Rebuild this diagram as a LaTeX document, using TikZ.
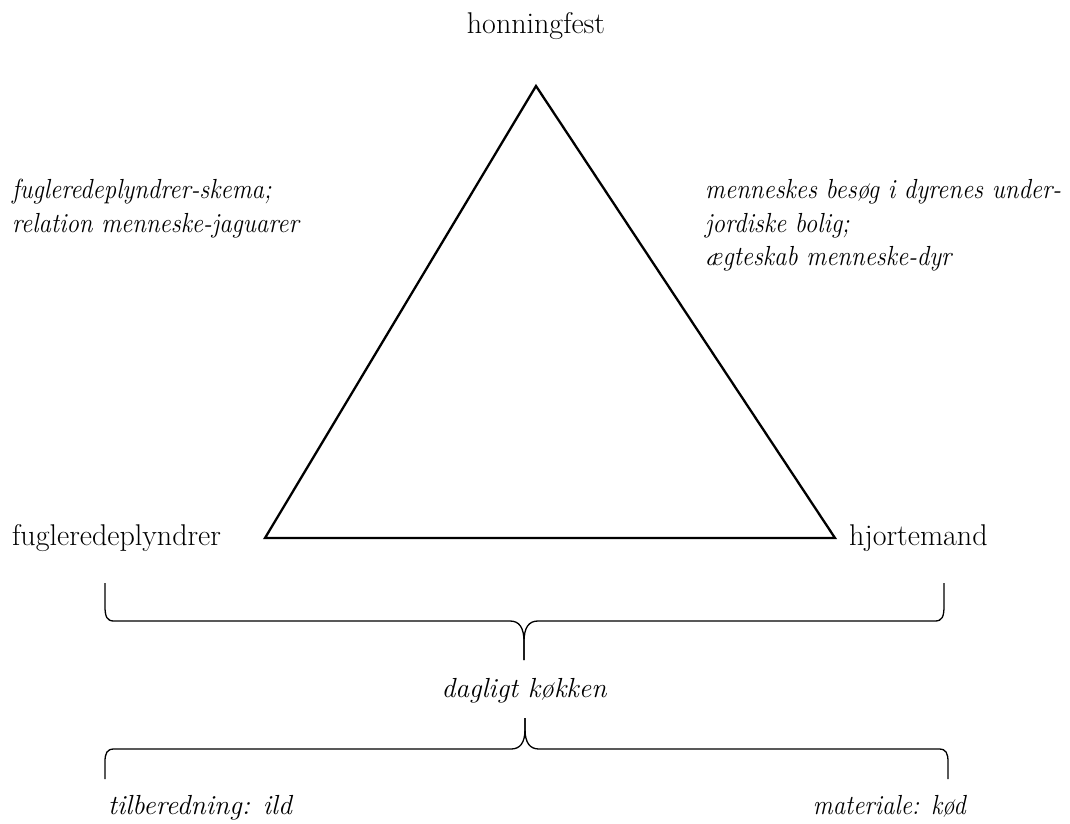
\documentclass[tikz,border=0pt]{standalone}
\usepackage{graphicx}
\usetikzlibrary{calc}
\newcommand{\sqz}[1]{\scalebox{0.9}[1]{#1}}
\begin{document}
\begin{tikzpicture}[x=1pt,y=-1pt,
  lbl/.style={inner sep=0pt,font=\fontsize{30}{34}\selectfont},
  ilbl/.style={inner sep=0pt,font=\fontsize{27.6}{34}\selectfont\itshape},
  tri/.style={line width=2.3pt,line join=miter},
  bracepath/.style={line width=1.3pt}]
\useasboundingbox (0,0) rectangle (1070,823);
% triangle
\coordinate (A) at (536,86);
\coordinate (L) at (265,538);
\coordinate (R) at (835,538);
\draw[tri] (A) -- (L) -- (R) -- cycle;
% vertex labels
\node[lbl,anchor=base] (top) at (536,33) {honningfest};
\node[lbl,anchor=base west] (left) at (12,545) {fugleredeplyndrer};
\node[lbl,anchor=base west] (right) at (849,545) {hjortemand};
% side labels
\node[ilbl,anchor=base west] (sl1) at (12,198) {\sqz{fugleredeplyndrer-skema;}};
\node[ilbl,anchor=base west] (sl2) at (12,232) {\sqz{relation menneske-jaguarer}};
\node[ilbl,anchor=base west] (sr1) at (705,198) {\sqz{menneskes besøg i dyrenes under-}};
\node[ilbl,anchor=base west] (sr2) at (705,232) {\sqz{jordiske bolig;}};
\node[ilbl,anchor=base west] (sr3) at (705,265) {\sqz{ægteskab menneske-dyr}};
% brace 1 (opening upward, tip down)
\coordinate (b1l) at (105,583);
\coordinate (b1r) at (944,583);
\coordinate (b1t) at (524,660);
\draw[bracepath] (b1l) -- (105,606) .. controls (105,617) and (107,621) .. (114,621)
  -- (510,621) .. controls (519,621) and (524,627) .. (524,642) -- (b1t);
\draw[bracepath] (b1t) -- (524,642) .. controls (524,627) and (529,621) .. (538,621)
  -- (935,621) .. controls (942,621) and (944,617) .. (944,606) -- (b1r);
\node[ilbl,anchor=base] (mid) at (524,697) {dagligt køkken};
% brace 2 (tip up)
\coordinate (b2l) at (105,779);
\coordinate (b2r) at (948,779);
\coordinate (b2t) at (525,718);
\draw[bracepath] (b2t) -- (525,729) .. controls (525,743) and (520,749) .. (511,749)
  -- (114,749) .. controls (107,749) and (105,753) .. (105,762) -- (b2l);
\draw[bracepath] (b2t) -- (525,729) .. controls (525,743) and (530,749) .. (539,749)
  -- (939,749) .. controls (946,749) and (948,753) .. (948,762) -- (b2r);
\node[ilbl,anchor=base west] (bl) at (108,814) {tilberedning: ild};
\node[ilbl,anchor=base east] (br) at (966,814) {\sqz{materiale: kød}};
\end{tikzpicture}
\end{document}
